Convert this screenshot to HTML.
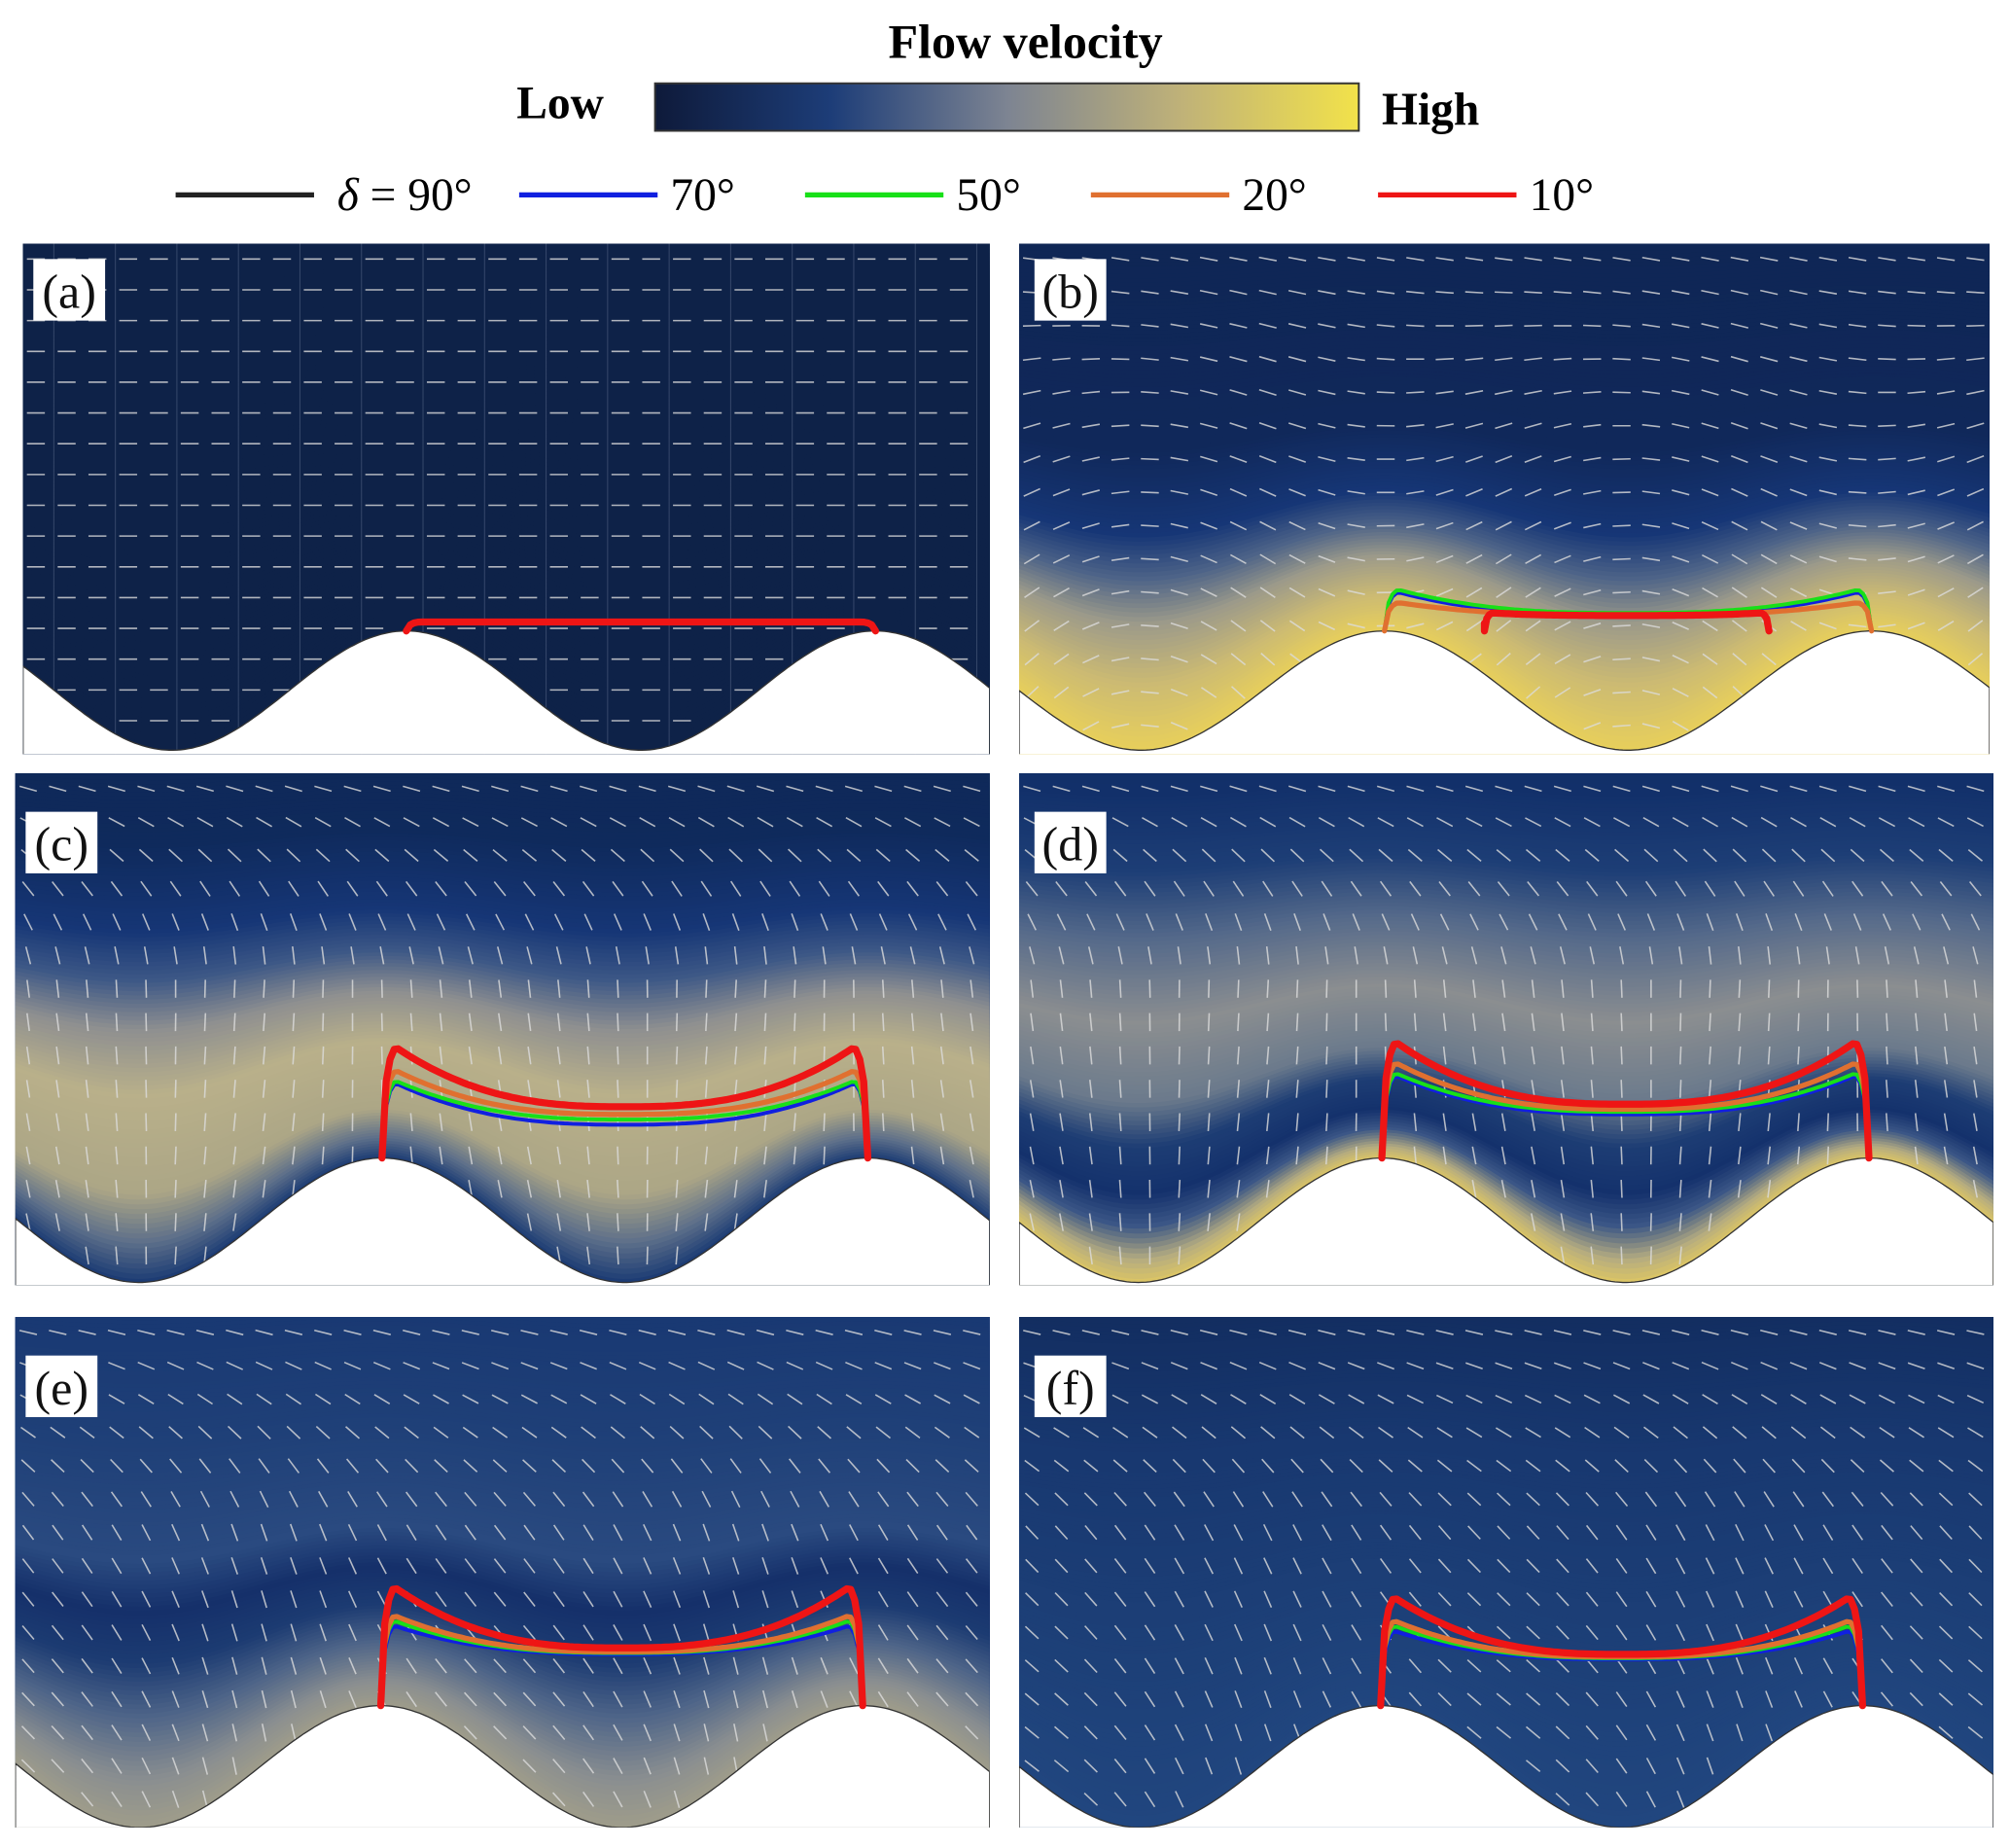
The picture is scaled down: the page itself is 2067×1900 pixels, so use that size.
<!DOCTYPE html>
<html><head><meta charset="utf-8"><style>
html,body{margin:0;padding:0;background:#fff;}
svg{display:block;}
text{font-family:"Liberation Serif",serif;}
</style></head><body>
<svg id="fig" width="2067" height="1900" viewBox="0 0 1568 1441" preserveAspectRatio="none" xmlns="http://www.w3.org/2000/svg">
<defs>
<linearGradient id="cbar" x1="0" x2="1" y1="0" y2="0">
<stop offset="0" stop-color="#0e1a3a"/><stop offset="0.25" stop-color="#1d3d78"/><stop offset="0.5" stop-color="#7d8492"/><stop offset="0.75" stop-color="#c0b278"/><stop offset="1" stop-color="#f2e24a"/>
</linearGradient>
</defs>
<text x="800" y="45" font-size="38" font-weight="bold" text-anchor="middle">Flow velocity</text>
<text x="403" y="92" font-size="36" font-weight="bold">Low</text>
<rect x="511" y="65" width="549" height="37" fill="url(#cbar)" stroke="#333" stroke-width="1.5"/>
<text x="1078" y="97" font-size="36" font-weight="bold">High</text>
<g id="legend"></g>
<g id="panels"></g>
</svg>
<script>
const seriesNames = ['δ = 90°','70°','50°','20°','10°'];
const seriesColors = ['#222222','#1020e0','#18e018','#e07030','#ee1515'];
const panelLabels = ['(a)','(b)','(c)','(d)','(e)','(f)'];
// curve heights above crest (edge height, middle height) per panel, order: blue, green, orange, red
const edgeHeights = [[7,7,7,7],[30,32,22,14],[58,60,68,86],[64,66,74,90],[62,66,70,92],[58,62,66,84]];
const midHeights  = [[7,7,7,7],[12,14,12,12],[26,30,34,40],[34,36,38,42],[40,41,42,45],[36,37,38,40]];
const curveColorIdx = [1,2,3,4];

const NS='http://www.w3.org/2000/svg';
const svg=document.getElementById('fig');
function mk(tag,attrs,parent){const e=document.createElementNS(NS,tag);for(const k in attrs)e.setAttribute(k,attrs[k]);(parent||svg).appendChild(e);return e;}

// legend
const lg=document.getElementById('legend');
const legX=[137,405,628,851,1075];
seriesNames.forEach((n,i)=>{
  const l=mk('line',{x1:legX[i],x2:legX[i]+108,y1:152,y2:152,stroke:seriesColors[i],'stroke-width':4},lg);
  
  
  const t=mk('text',{x:legX[i]+(i==0?126:118),y:164,'font-size':36},lg);
  if(i==0){const s=mk('tspan',{'font-style':'italic'},t);s.textContent='δ';const r=mk('tspan',{},t);r.textContent=' = 90°';}
  else t.textContent=n;
  
  
});

const P=[
 {x0:18,x1:772,y0:190,y1:588,xp:317,per:366,pk:492,tr:585,stops:[[0,'#0e2248'],[500,'#0e2248']],ang:[180,0]},
 {x0:795,x1:1552,y0:190,y1:588,xp:1080,per:380,pk:492,tr:585,stops:[[0,'#e8d05a'],[40,'#cdbb72'],[80,'#9c9a8a'],[110,'#4d6388'],[140,'#163676'],[200,'#10285a'],[500,'#0e2450']],ang:[180,50]},
 {x0:12,x1:772,y0:603,y1:1002,xp:298,per:379,pk:903,tr:1000,stops:[[0,'#173872'],[25,'#5d6f8a'],[55,'#aca686'],[120,'#b9b08a'],[165,'#8e8f90'],[200,'#3d5886'],[235,'#163676'],[300,'#0f2a5c'],[500,'#0e2450']],ang:[92,12]},
 {x0:795,x1:1555,y0:603,y1:1002,xp:1078,per:380,pk:903,tr:1000,stops:[[0,'#e0c862'],[15,'#b4ab80'],[35,'#3b5686'],[55,'#14316c'],[85,'#1d3d74'],[115,'#6b7a8c'],[170,'#8b8e90'],[230,'#54698a'],[280,'#1d3e76'],[340,'#12306a'],[500,'#10285c']],ang:[92,12]},
 {x0:12,x1:772,y0:1027,y1:1425,xp:297,per:376,pk:1330,tr:1425,stops:[[0,'#a09d8a'],[30,'#8a8e90'],[70,'#4d6488'],[105,'#1c3b72'],[140,'#15306a'],[175,'#2a4a80'],[260,'#1f4078'],[400,'#163570']],ang:[118,20]},
 {x0:795,x1:1555,y0:1027,y1:1425,xp:1077,per:376,pk:1330,tr:1425,stops:[[0,'#21467f'],[100,'#1d4078'],[250,'#183870'],[400,'#10295a']],ang:[125,20]}
];
function hex(c){return [1,3,5].map(i=>parseInt(c.substr(i,2),16));}
function colAt(stops,d){
  for(let i=0;i<stops.length-1;i++){const a=stops[i],b=stops[i+1];
    if(d>=a[0]&&d<=b[0]){const t=(d-a[0])/(b[0]-a[0]);const ca=hex(a[1]),cb=hex(b[1]);
      return 'rgb('+ca.map((v,k)=>Math.round(v+(cb[k]-v)*t)).join(',')+')';}}
  return stops[stops.length-1][1];
}
const panelsG=document.getElementById('panels');
P.forEach((p,pi)=>{
  const g=mk('g',{},panelsG);
  
  
  const cid='clip'+pi;
  const cp=mk('clipPath',{id:cid},g);mk('rect',{x:p.x0,y:p.y0,width:p.x1-p.x0,height:p.y1-p.y0},cp);
  const inner=mk('g',{'clip-path':'url(#'+cid+')'},g);
  const mid=(p.pk+p.tr)/2,A=(p.tr-p.pk)/2;
  const bed=(x,d)=>mid-d-A*(d<=0?1:Math.exp(-d/140))*Math.cos(2*Math.PI*(x-p.xp)/p.per);
  mk('rect',{x:p.x0,y:p.y0,width:p.x1-p.x0,height:p.y1-p.y0,fill:colAt(p.stops,mid-p.y0+50)},inner);
  const dMax=Math.ceil(mid-p.y0+40);
  for(let d=dMax;d>=0;d-=3){
    let s='M'+p.x0+' '+p.y1;
    for(let x=p.x0;x<=p.x1;x+=6)s+=' L'+x+' '+bed(x,d).toFixed(1);
    s+=' L'+p.x1+' '+bed(p.x1,d).toFixed(1)+' L'+p.x1+' '+p.y1+'Z';
    mk('path',{d:s,fill:colAt(p.stops,d)},inner);
    if(pi>0&&d%12==0&&d<260){let c='M'+p.x0+' '+bed(p.x0,d).toFixed(1);for(let x=p.x0;x<=p.x1;x+=6)c+=' L'+x+' '+bed(x,d).toFixed(1);
      mk('path',{d:c,fill:'none',stroke:'#7a7f90','stroke-width':0.8,opacity:0.5},inner);}
  }
  if(pi==0){for(let x=p.x0+24;x<p.x1;x+=48)mk('line',{x1:x,x2:x,y1:p.y0,y2:p.y1,stroke:'#5a6a8a','stroke-width':0.8,opacity:0.5},inner);}
  // arrows
  const ag=mk('g',{stroke:'#dcdcdc','stroke-width':1.2,opacity:0.8},inner);
  for(let y=p.y0+12;y<p.y1;y+=(pi==0?24:26)){
    for(let x=p.x0+10;x<p.x1;x+=(pi==0?24:23)){
      if(y>bed(x,0)-4)continue;
      const fr=(y-p.y0)/(p.y1-p.y0);
      let topW=Math.max(0,1-fr*2.5);
      let a=(pi==0?180:p.ang[0]+topW*(170-p.ang[0])+p.ang[1]*Math.sin(2*Math.PI*(x-p.xp)/p.per)*fr)*Math.PI/180;
      const L=7,dx=Math.cos(a)*L,dy=-Math.sin(a)*L;
      mk('line',{x1:(x-dx).toFixed(1),y1:(y-dy).toFixed(1),x2:(x+dx).toFixed(1),y2:(y+dy).toFixed(1)},ag);
    }
  }
  // white bed
  let s='M'+p.x0+' '+(p.y1+5);
  for(let x=p.x0;x<=p.x1;x+=3)s+=' L'+x+' '+bed(x,0).toFixed(1);
  s+=' L'+p.x1+' '+bed(p.x1,0).toFixed(1)+' L'+p.x1+' '+(p.y1+5)+'Z';
  const bp=mk('path',{d:s,fill:'#fff',stroke:'#333','stroke-width':1},inner);
  
  
  // curves
  const xa=p.xp,xb=p.xp+p.per;
  curveColorIdx.forEach((ci,k)=>{
    const hE=edgeHeights[pi][k],hM=midHeights[pi][k];
    let sx=xa,ex=xb;
    if(pi==1&&k==3){sx=xa+78;ex=xb-80;}
    let d='M'+sx+' '+(p.pk-(pi==1&&k==3?6:0));
    const n=120;
    for(let i=0;i<=n;i++){const t=i/n;const u=Math.min(1,Math.abs(2*t-1)/0.94);
      const shape=Math.pow(u,2.6);
      const e=Math.min(t,1-t);
      const rise=e>=0.03?1:Math.sqrt(Math.max(0,1-Math.pow((0.03-e)/0.03,2)));
      const h=rise*(hM+(hE-hM)*shape);
      d+=' L'+(sx+(ex-sx)*t).toFixed(1)+' '+(p.pk-h).toFixed(1);}
    const c=mk('path',{d:d,fill:'none',stroke:seriesColors[ci],'stroke-width':k==3?5.5:k==2?4:3,'stroke-linejoin':'round','stroke-linecap':'round'},inner);
    
    
  });
  // label
  const lx=p.x0+(pi%2==0?8:12),ly=p.y0+(pi<2?12:30);
  mk('rect',{x:lx,y:ly,width:56,height:48,fill:'#fff'},g);
  const t=mk('text',{x:lx+28,y:ly+38,'font-size':38,'text-anchor':'middle',fill:'#111'},g);
  t.textContent=panelLabels[pi];
  
  
});
</script>
</body></html>
